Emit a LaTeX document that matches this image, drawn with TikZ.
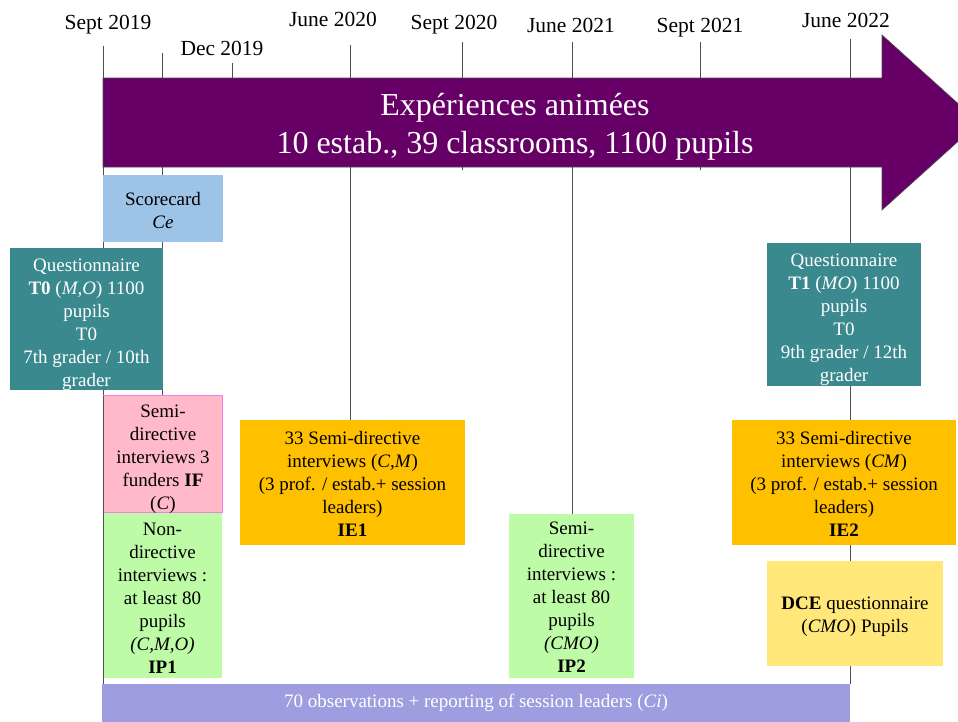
\documentclass[tikz,border=0pt]{standalone}
\usepackage{fontspec}
\setmainfont{Liberation Serif}
\definecolor{arrowpurple}{HTML}{660066}
\definecolor{scoreblue}{HTML}{9DC3E6}
\definecolor{tealbox}{HTML}{3A898E}
\definecolor{pinkbox}{HTML}{FFB9C9}
\definecolor{pinkedge}{HTML}{F07CF0}
\definecolor{greenbox}{HTML}{BDFBA6}
\definecolor{orangebox}{HTML}{FFC000}
\definecolor{yellowbox}{HTML}{FFE77A}
\definecolor{lavbar}{HTML}{9E9DE0}
\definecolor{tickgray}{HTML}{505050}
\begin{document}
\begin{tikzpicture}[x=1pt,y=-1pt,
  datelbl/.style={anchor=base,inner sep=0,font=\fontsize{21.5}{24}\selectfont},
  tick/.style={draw=tickgray,line width=1pt},
  box/.style={inner sep=0,outer sep=0},
  boxtxt/.style={inner sep=0,outer sep=0,align=center,font=\fontsize{19}{23}\selectfont},
  arrtxt/.style={anchor=base,inner sep=0,text=white,font=\fontsize{32}{38}\selectfont}]
\useasboundingbox (0,0) rectangle (958,721);
% date labels
\node[datelbl] (d1) at (108,29) {Sept 2019};
\node[datelbl] (d2) at (222,55) {Dec 2019};
\node[datelbl] (d3) at (333,26) {June 2020};
\node[datelbl] (d4) at (454,29) {Sept 2020};
\node[datelbl] (d5) at (571,32) {June 2021};
\node[datelbl] (d6) at (700,32) {Sept 2021};
\node[datelbl] (d7) at (846,27) {June 2022};
% tick coordinates
\coordinate (a1) at (103,46);
\coordinate (a2) at (162.5,53);
\coordinate (a2b) at (162.5,395);
\coordinate (a3) at (232,63);
\coordinate (a3b) at (232,80);
\coordinate (a4) at (350,45);
\coordinate (a5) at (462,42);
\coordinate (a5b) at (462,170);
\coordinate (a6) at (572,42);
\coordinate (a7) at (700,42);
\coordinate (a7b) at (700,170);
\coordinate (a8) at (850,39);
% box outlines (positions only, drawn later)
\path (163,208.5) node[box,minimum width=120,minimum height=67] (score) {};
\path (86.5,319) node[box,minimum width=153,minimum height=142] (t0) {};
\path (163,454) node[box,minimum width=119,minimum height=117] (iff) {};
\path (162.5,595.5) node[box,minimum width=119,minimum height=165] (ip1) {};
\path (352.5,482.5) node[box,minimum width=225,minimum height=125] (ie1) {};
\path (571.5,596) node[box,minimum width=125,minimum height=164] (ip2) {};
\path (844,314.5) node[box,minimum width=154,minimum height=143] (t1) {};
\path (844,482.5) node[box,minimum width=224,minimum height=125] (ie2) {};
\path (855,613.5) node[box,minimum width=176,minimum height=105] (dce) {};
\path (476,702.5) node[box,minimum width=748,minimum height=37] (obs) {};
% timeline lines
\draw[tick] (a1) -- (a1 |- obs.north);
\draw[tick] (a2) -- (a2b);
\draw[tick] (a3) -- (a3b);
\draw[tick] (a4) -- (a4 |- ie1.north);
\draw[tick] (a5) -- (a5b);
\draw[tick] (a6) -- (a6 |- ip2.north);
\draw[tick] (a7) -- (a7b);
\draw[tick] (a8) -- (a8 |- obs.north);
% filled boxes
\fill[scoreblue] (score.north west) rectangle (score.south east);
\fill[tealbox] (t0.north west) rectangle (t0.south east);
\draw[fill=pinkbox,draw=pinkedge,line width=0.8pt] (iff.north west) rectangle (iff.south east);
\fill[greenbox] (ip1.north west) rectangle (ip1.south east);
\fill[orangebox] (ie1.north west) rectangle (ie1.south east);
\fill[greenbox] (ip2.north west) rectangle (ip2.south east);
\fill[tealbox] (t1.north west) rectangle (t1.south east);
\fill[orangebox] (ie2.north west) rectangle (ie2.south east);
\fill[yellowbox] (dce.north west) rectangle (dce.south east);
\fill[lavbar] (obs.north west) rectangle ([yshift=-10pt]obs.south east);
\draw[tick] (a1 |- iff.north) -- (a1 |- obs.north);
% box texts
\node[boxtxt] (scoretxt) at ([yshift=-2pt]score.center) {Scorecard\\\textit{Ce}};
\node[boxtxt,text=white] (t0txt) at ([yshift=-6pt]t0.center) {Questionnaire\\\textbf{T0} (\textit{M,O}) 1100\\pupils\\T0\\7th grader / 10th\\grader};
\node[boxtxt] (ifftxt) at ([yshift=-5pt]iff.center) {Semi-\\directive\\interviews 3\\funders \textbf{IF}\\(\textit{C})};
\node[boxtxt] (ip1txt) at ([yshift=-3pt]ip1.center) {Non-\\directive\\interviews :\\at least 80\\pupils\\\textit{(C,M,O)}\\\textbf{IP1}};
\node[boxtxt] (ie1txt) at ([yshift=-1.5pt]ie1.center) {33 Semi-directive\\interviews (\textit{C,M})\\(3 prof. / estab.+ session\\leaders)\\\textbf{IE1}};
\node[boxtxt] (ip2txt) at ([yshift=-1pt]ip2.center) {Semi-\\directive\\interviews :\\at least 80\\pupils\\\textit{(CMO)}\\\textbf{IP2}};
\node[boxtxt,text=white] (t1txt) at ([yshift=-5pt]t1.center) {Questionnaire\\\textbf{T1} (\textit{MO}) 1100\\pupils\\T0\\9th grader / 12th\\grader};
\node[boxtxt] (ie2txt) at ([yshift=-1.5pt]ie2.center) {33 Semi-directive\\interviews (\textit{CM})\\(3 prof. / estab.+ session\\leaders)\\\textbf{IE2}};
\node[boxtxt] (dcetxt) at ([yshift=-3pt]dce.center) {\textbf{DCE} questionnaire\\(\textit{CMO}) Pupils};
\node[boxtxt,text=white] (obstxt) at (476,703) {70 observations + reporting of session leaders (\textit{Ci})};
% arrow
\coordinate (p1) at (103,78);
\coordinate (p2) at (882,78);
\coordinate (p3) at (882,35);
\coordinate (p4) at (979,122.5);
\coordinate (p5) at (882,210);
\coordinate (p6) at (882,167);
\coordinate (p7) at (103,167);
\draw[fill=arrowpurple,draw=black!70,line width=0.6pt] (p1) -- (p2) -- (p3) -- (p4) -- (p5) -- (p6) -- (p7) -- cycle;
\node[arrtxt] (at1) at (515,115) {Expériences animées};
\node[arrtxt] (at2) at (515,153) {10 estab., 39 classrooms, 1100 pupils};
\end{tikzpicture}
\end{document}
